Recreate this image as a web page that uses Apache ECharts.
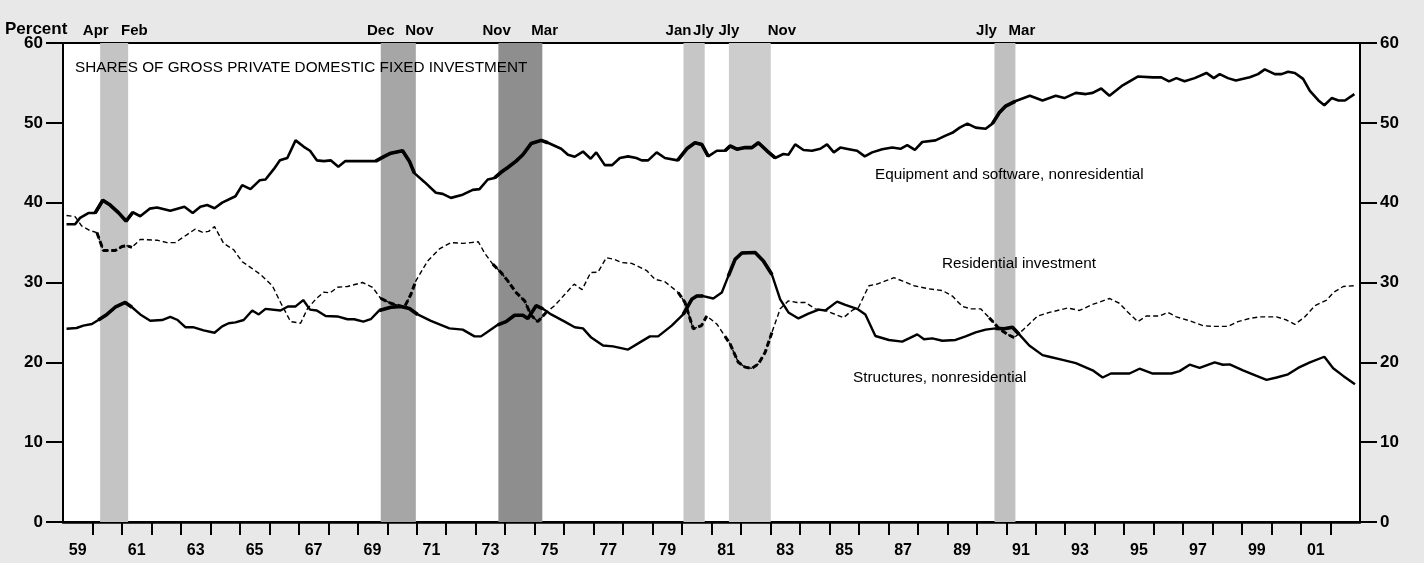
<!DOCTYPE html>
<html>
<head>
<meta charset="utf-8">
<script src="https://cdn.jsdelivr.net/npm/echarts@6/dist/echarts.min.js"></script>
<style>
  html, body { margin: 0; padding: 0; background: #e8e8e8; }
  #chart { width: 1424px; height: 563px; }
</style>
</head>
<body>
<div id="chart"></div>
<script>
// quarterly shares as [year, percent]
const equipment = [
  [1959.12, 37.3], [1959.41, 37.3], [1959.58, 38.1], [1959.86, 38.7], [1960.09, 38.7], [1960.35, 40.3],
  [1960.60, 39.7], [1960.88, 38.75], [1961.14, 37.7], [1961.37, 38.8], [1961.62, 38.3], [1961.94, 39.25],
  [1962.19, 39.4], [1962.64, 39.0], [1963.12, 39.5], [1963.40, 38.7], [1963.66, 39.5], [1963.89, 39.7],
  [1964.14, 39.3], [1964.40, 40.0], [1964.85, 40.8], [1965.08, 42.2], [1965.36, 41.7], [1965.67, 42.8],
  [1965.87, 42.9], [1966.15, 44.2], [1966.36, 45.3], [1966.61, 45.6], [1966.89, 47.8], [1967.17, 47.0],
  [1967.38, 46.5], [1967.61, 45.3], [1967.85, 45.2], [1968.08, 45.3], [1968.34, 44.5], [1968.57, 45.2],
  [1969.61, 45.2], [1969.90, 45.8], [1970.12, 46.2], [1970.52, 46.5], [1970.75, 45.2], [1970.92, 43.7],
  [1971.26, 42.6], [1971.65, 41.25], [1971.88, 41.1], [1972.16, 40.6], [1972.56, 41.0], [1972.90, 41.6],
  [1973.13, 41.7], [1973.41, 42.9], [1973.64, 43.1], [1973.86, 43.8], [1974.09, 44.4], [1974.37, 45.2],
  [1974.60, 46.0], [1974.88, 47.4], [1975.22, 47.8], [1975.45, 47.5], [1975.90, 46.75], [1976.13, 46.0],
  [1976.36, 45.75], [1976.64, 46.4], [1976.90, 45.5], [1977.09, 46.3], [1977.38, 44.7], [1977.63, 44.7],
  [1977.89, 45.6], [1978.17, 45.8], [1978.45, 45.6], [1978.63, 45.3], [1978.85, 45.3], [1979.14, 46.3],
  [1979.42, 45.6], [1979.85, 45.3], [1980.16, 46.75], [1980.44, 47.5], [1980.67, 47.3], [1980.89, 45.8],
  [1981.18, 46.5], [1981.46, 46.5], [1981.63, 47.1], [1981.86, 46.7], [1982.14, 46.9], [1982.37, 46.9],
  [1982.59, 47.5], [1982.88, 46.5], [1983.16, 45.6], [1983.44, 46.1], [1983.61, 46.0], [1983.84, 47.3],
  [1984.12, 46.6], [1984.41, 46.5], [1984.69, 46.75], [1984.92, 47.3], [1985.15, 46.3], [1985.37, 46.9],
  [1985.66, 46.7], [1985.94, 46.5], [1986.20, 45.8], [1986.45, 46.3], [1986.79, 46.7], [1987.13, 46.9],
  [1987.41, 46.75], [1987.64, 47.2], [1987.90, 46.6], [1988.15, 47.6], [1988.60, 47.8], [1988.94, 48.4],
  [1989.17, 48.75], [1989.42, 49.4], [1989.68, 49.9], [1989.96, 49.4], [1990.30, 49.25], [1990.53, 49.9],
  [1990.76, 51.25], [1990.98, 52.1], [1991.30, 52.7], [1991.80, 53.4], [1992.23, 52.8], [1992.68, 53.4],
  [1992.97, 53.1], [1993.36, 53.75], [1993.70, 53.6], [1993.93, 53.75], [1994.22, 54.3], [1994.50, 53.4],
  [1994.95, 54.7], [1995.46, 55.8], [1995.97, 55.7], [1996.26, 55.7], [1996.52, 55.2], [1996.77, 55.6],
  [1997.05, 55.2], [1997.39, 55.6], [1997.79, 56.25], [1998.04, 55.6], [1998.24, 56.1], [1998.52, 55.6],
  [1998.79, 55.3], [1999.26, 55.7], [1999.54, 56.1], [1999.77, 56.7], [2000.11, 56.1], [2000.34, 56.1],
  [2000.56, 56.4], [2000.79, 56.25], [2001.07, 55.5], [2001.30, 54.0], [2001.59, 52.8], [2001.79, 52.2],
  [2002.04, 53.1], [2002.27, 52.8], [2002.49, 52.8], [2002.81, 53.6]
];

const residential = [
  [1959.12, 38.4], [1959.41, 38.25], [1959.63, 37.1], [1959.92, 36.5], [1960.15, 36.25], [1960.37, 34.0],
  [1960.77, 34.0], [1961.00, 34.5], [1961.17, 34.6], [1961.34, 34.4], [1961.62, 35.4], [1962.19, 35.3],
  [1962.53, 35.0], [1962.81, 35.0], [1963.21, 36.0], [1963.49, 36.7], [1963.72, 36.3], [1963.94, 36.4],
  [1964.14, 37.0], [1964.45, 34.9], [1964.79, 34.1], [1965.08, 32.6], [1965.36, 31.9], [1965.70, 31.0],
  [1966.10, 29.6], [1966.38, 27.5], [1966.72, 25.1], [1967.06, 24.9], [1967.29, 26.7], [1967.57, 27.9],
  [1967.85, 28.8], [1968.06, 28.7], [1968.31, 29.4], [1968.65, 29.5], [1969.16, 30.0], [1969.50, 29.4],
  [1969.78, 28.0], [1970.12, 27.4], [1970.58, 26.9], [1970.80, 28.5], [1970.97, 30.2], [1971.37, 32.7],
  [1971.77, 34.2], [1972.16, 35.0], [1972.56, 34.9], [1972.84, 35.0], [1973.09, 35.1], [1973.30, 33.7],
  [1973.58, 32.3], [1973.86, 31.25], [1974.09, 30.2], [1974.37, 28.75], [1974.66, 27.7], [1974.88, 25.9],
  [1975.11, 25.1], [1975.39, 26.25], [1975.68, 27.1], [1976.02, 28.5], [1976.34, 29.8], [1976.61, 29.1],
  [1976.90, 31.25], [1977.15, 31.3], [1977.43, 33.1], [1977.70, 32.9], [1977.94, 32.5], [1978.29, 32.4],
  [1978.80, 31.5], [1979.08, 30.4], [1979.42, 30.1], [1979.87, 28.75], [1980.10, 27.5], [1980.38, 24.2],
  [1980.66, 24.6], [1980.84, 25.8], [1981.18, 24.8], [1981.46, 23.25], [1981.63, 22.3], [1981.91, 20.0],
  [1982.14, 19.4], [1982.37, 19.25], [1982.59, 19.8], [1982.82, 21.25], [1983.05, 23.75], [1983.33, 26.7],
  [1983.61, 27.7], [1983.90, 27.5], [1984.18, 27.5], [1984.52, 26.7], [1984.86, 26.5], [1985.20, 26.0],
  [1985.48, 25.6], [1985.77, 26.5], [1985.99, 26.9], [1986.34, 29.6], [1986.62, 29.8], [1986.90, 30.2],
  [1987.19, 30.6], [1987.47, 30.2], [1987.87, 29.6], [1988.38, 29.2], [1988.83, 29.0], [1989.17, 28.3],
  [1989.51, 27.0], [1989.79, 26.7], [1990.13, 26.7], [1990.42, 25.6], [1990.76, 24.2], [1991.04, 23.5],
  [1991.27, 23.1], [1991.55, 24.0], [1991.78, 24.8], [1992.06, 25.8], [1992.46, 26.25], [1993.08, 26.8],
  [1993.48, 26.5], [1993.93, 27.25], [1994.50, 28.0], [1994.84, 27.4], [1995.12, 26.3], [1995.46, 25.1],
  [1995.75, 25.8], [1996.20, 25.8], [1996.48, 26.25], [1996.77, 25.7], [1997.22, 25.2], [1997.67, 24.6],
  [1998.01, 24.5], [1998.52, 24.5], [1998.86, 25.1], [1999.26, 25.5], [1999.60, 25.7], [2000.17, 25.7],
  [2000.51, 25.3], [2000.79, 24.75], [2001.13, 25.7], [2001.47, 27.1], [2001.87, 27.8], [2002.10, 28.75],
  [2002.43, 29.5], [2002.81, 29.6]
];

const structures = [
  [1959.12, 24.2], [1959.46, 24.3], [1959.69, 24.6], [1959.98, 24.8], [1960.20, 25.3], [1960.49, 26.0],
  [1960.77, 26.9], [1961.11, 27.5], [1961.34, 26.9], [1961.62, 26.0], [1961.96, 25.2], [1962.36, 25.3],
  [1962.64, 25.7], [1962.89, 25.3], [1963.15, 24.4], [1963.41, 24.4], [1963.77, 24.0], [1964.14, 23.7],
  [1964.40, 24.5], [1964.62, 24.9], [1964.85, 25.0], [1965.13, 25.3], [1965.42, 26.5], [1965.64, 26.0],
  [1965.87, 26.7], [1966.38, 26.5], [1966.63, 27.0], [1966.89, 27.0], [1967.15, 27.8], [1967.38, 26.6],
  [1967.61, 26.5], [1967.91, 25.8], [1968.31, 25.75], [1968.65, 25.4], [1968.88, 25.4], [1969.19, 25.1],
  [1969.44, 25.4], [1969.73, 26.5], [1970.12, 26.9], [1970.46, 27.0], [1970.75, 26.75], [1971.03, 26.0],
  [1971.48, 25.2], [1972.11, 24.25], [1972.56, 24.1], [1972.96, 23.25], [1973.18, 23.25], [1973.47, 24.0],
  [1973.75, 24.7], [1974.03, 25.1], [1974.32, 25.9], [1974.60, 25.9], [1974.77, 25.5], [1975.05, 27.1],
  [1975.28, 26.7], [1975.56, 26.0], [1976.02, 25.1], [1976.36, 24.4], [1976.64, 24.25], [1976.92, 23.1],
  [1977.32, 22.1], [1977.66, 22.0], [1978.17, 21.6], [1978.57, 22.5], [1978.91, 23.25], [1979.19, 23.25],
  [1979.65, 24.6], [1980.04, 26.0], [1980.33, 27.9], [1980.50, 28.3], [1980.72, 28.3], [1981.06, 28.0],
  [1981.35, 28.75], [1981.57, 30.8], [1981.80, 32.9], [1982.03, 33.7], [1982.48, 33.75], [1982.76, 32.7],
  [1983.05, 31.0], [1983.33, 27.9], [1983.61, 26.25], [1983.95, 25.5], [1984.29, 26.1], [1984.64, 26.6],
  [1984.86, 26.5], [1985.26, 27.6], [1985.54, 27.2], [1985.94, 26.7], [1986.22, 26.0], [1986.56, 23.3],
  [1987.02, 22.8], [1987.47, 22.6], [1987.70, 23.0], [1987.98, 23.5], [1988.21, 22.9], [1988.49, 23.0],
  [1988.83, 22.7], [1989.28, 22.8], [1989.62, 23.25], [1989.96, 23.75], [1990.30, 24.1], [1990.64, 24.25],
  [1990.93, 24.2], [1991.21, 24.4], [1991.44, 23.5], [1991.78, 22.1], [1992.23, 20.9], [1992.46, 20.7],
  [1992.91, 20.3], [1993.36, 19.9], [1993.93, 19.0], [1994.27, 18.1], [1994.55, 18.6], [1995.18, 18.6],
  [1995.52, 19.2], [1995.97, 18.6], [1996.60, 18.6], [1996.88, 18.9], [1997.22, 19.7], [1997.56, 19.3],
  [1998.07, 20.0], [1998.35, 19.7], [1998.58, 19.75], [1999.03, 19.0], [1999.49, 18.3], [1999.83, 17.8],
  [2000.17, 18.1], [2000.56, 18.5], [2000.90, 19.3], [2001.30, 20.0], [2001.79, 20.7], [2002.09, 19.25],
  [2002.43, 18.3], [2002.83, 17.25]
];

// recessions (decimal years) and the month labels above them
const recessionStart = [1960.26, 1969.78, 1973.77, 1980.05, 1981.59, 1990.60];
const recessionEnd = [1961.21, 1970.97, 1975.26, 1980.77, 1983.01, 1991.31];
const monthLabels = ['Apr', 'Feb', 'Dec', 'Nov', 'Nov', 'Mar', 'Jan', 'Jly', 'Jly', 'Nov', 'Jly', 'Mar'];
const monthLabelYears = [1960.11, 1961.42, 1969.78, 1971.09, 1973.71, 1975.34, 1979.88, 1980.73, 1981.59, 1983.39, 1990.33, 1991.53];

const yearTicks = [];
for (let y = 1960; y <= 2002; y++) yearTicks.push(y);
const yearLabels = []; // 59, 61, ... 01 centred in their year
for (let y = 1959; y <= 2001; y += 2) yearLabels.push(y + 0.5);

const bandColors = ['#c4c4c4', '#a6a6a6', '#8e8e8e', '#c6c6c6', '#cdcdcd', '#c0c0c0'];
const FONT = '"Liberation Sans", Arial, Helvetica, sans-serif';

// keep only points near a recession, to draw the heavier segments
function inRecessions(points) {
  return points.map(([x, v]) => {
    const hit = recessionStart.some((s, i) => x >= s - 0.2 && x <= recessionEnd[i] + 0.2);
    return [x, hit ? v : null];
  });
}

const chart = echarts.init(document.getElementById('chart'));

const yAxisBase = {
  type: 'value',
  min: 0,
  max: 60,
  interval: 10,
  axisLine: { show: true, lineStyle: { color: '#000', width: 2 } },
  axisTick: { show: true, length: 17, lineStyle: { color: '#000', width: 2 } },
  splitLine: { show: false },
  axisLabel: { color: '#000', fontFamily: FONT, fontWeight: 'bold', fontSize: 17, margin: 20 }
};

const option = {
  animation: false,
  backgroundColor: '#e8e8e8',
  grid: {
    left: 63, right: 64, top: 43, bottom: 41,
    show: true, backgroundColor: '#fff', borderColor: '#000', borderWidth: 2
  },
  xAxis: {
    type: 'value',
    min: 1959,
    max: 2003,
    axisLine: { onZero: false, lineStyle: { color: '#000', width: 2.5 } },
    axisTick: { show: true, customValues: yearTicks, length: 13, lineStyle: { color: '#000', width: 2 } },
    axisLabel: {
      customValues: yearLabels,
      formatter: (v) => String(Math.floor(v) % 100).padStart(2, '0'),
      color: '#000', fontFamily: FONT, fontWeight: 'bold', fontSize: 16, margin: 21
    },
    splitLine: { show: false }
  },
  yAxis: [
    Object.assign({ position: 'left' }, yAxisBase),
    Object.assign({ position: 'right' }, yAxisBase)
  ],
  series: [
    {
      name: 'recessions',
      type: 'line',
      data: [],
      z: 1,
      silent: true,
      markArea: {
        silent: true,
        data: recessionStart.map((s, i) => [
          { xAxis: s, itemStyle: { color: bandColors[i] } },
          { xAxis: recessionEnd[i] }
        ])
      }
    },
    {
      name: 'Equipment and software, nonresidential',
      type: 'line',
      data: equipment,
      showSymbol: false,
      z: 3,
      lineStyle: { color: '#000', width: 2.6 }
    },
    {
      name: 'Residential investment',
      type: 'line',
      data: residential,
      showSymbol: false,
      z: 3,
      lineStyle: { color: '#000', width: 1.4, type: [5, 3] }
    },
    {
      name: 'Structures, nonresidential',
      type: 'line',
      data: structures,
      showSymbol: false,
      z: 3,
      lineStyle: { color: '#000', width: 2.4 }
    },
    // heavier strokes inside recessions
    {
      type: 'line', data: inRecessions(equipment), showSymbol: false, z: 4, connectNulls: false,
      lineStyle: { color: '#000', width: 3.6 }
    },
    {
      type: 'line', data: inRecessions(residential), showSymbol: false, z: 4, connectNulls: false,
      lineStyle: { color: '#000', width: 3, type: [6, 3] }
    },
    {
      type: 'line', data: inRecessions(structures), showSymbol: false, z: 4, connectNulls: false,
      lineStyle: { color: '#000', width: 3.6 }
    }
  ]
};

chart.setOption(option);

function txt(x, y, text, size, weight, align) {
  return {
    type: 'text', x: x, y: y, z: 10, silent: true,
    style: {
      text: text, fill: '#000', font: (weight || 'normal') + ' ' + size + 'px ' + FONT,
      textAlign: align || 'left', textVerticalAlign: 'middle'
    }
  };
}

const graphics = [
  txt(5, 29, 'Percent', 17, 'bold'),
  txt(75, 68, 'SHARES OF GROSS PRIVATE DOMESTIC FIXED INVESTMENT', 15.3),
  txt(875, 175, 'Equipment and software, nonresidential', 15.3),
  txt(942, 264, 'Residential investment', 15.3),
  txt(853, 378, 'Structures, nonresidential', 15.3)
];
monthLabels.forEach((m, i) => {
  const px = chart.convertToPixel({ xAxisIndex: 0 }, monthLabelYears[i]);
  graphics.push(txt(px, 31, m, 15, 'bold', 'center'));
});
chart.setOption({ graphic: graphics });
</script>
</body>
</html>
